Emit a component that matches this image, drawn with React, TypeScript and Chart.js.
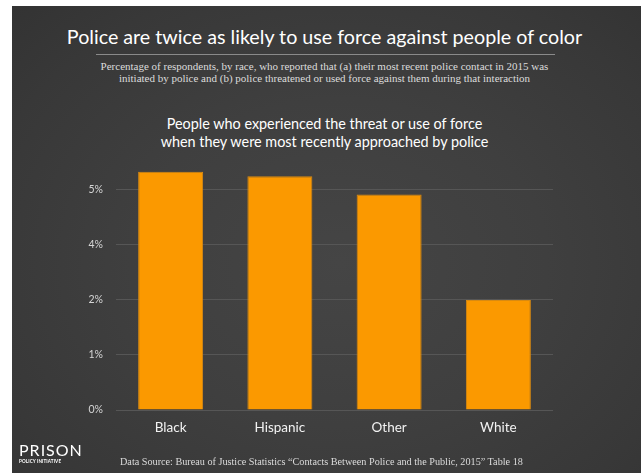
import React, { useEffect, useRef } from "react";
import { Chart, registerables } from "chart.js";

Chart.register(...registerables);

const categories = ["Black", "Hispanic", "Other", "White"];
const values = [5.2, 5.1, 4.7, 2.4];
const tickValues = [0, 1.2, 2.4, 3.6, 4.8];
const yMax = 5.41;

const TITLE = "Police are twice as likely to use force against people of color";
const SUBTITLE_1 =
  "Percentage of respondents, by race, who reported that (a) their most recent police contact in 2015 was";
const SUBTITLE_2 =
  "initiated by police and (b) police threatened or used force against them during that interaction";
const CHART_TITLE_1 = "People who experienced the threat or use of force";
const CHART_TITLE_2 = "when they were most recently approached by police";
const SOURCE =
  "Data Source: Bureau of Justice Statistics \u201cContacts Between Police and the Public, 2015\u201d Table 18";

const SANS = "Lato, 'Noto Sans', sans-serif";
const SERIF = "'Liberation Serif', 'DejaVu Serif', serif";

export default function App() {
  const canvasRef = useRef<HTMLCanvasElement | null>(null);

  useEffect(() => {
    const canvas = canvasRef.current;
    if (!canvas) return;
    const chart = new Chart(canvas, {
      type: "bar",
      data: {
        labels: categories,
        datasets: [
          {
            data: values,
            backgroundColor: "#fb9900",
            borderColor: "#d98a10",
            borderWidth: 1,
            barPercentage: 0.595,
            categoryPercentage: 1,
          },
        ],
      },
      options: {
        responsive: false,
        animation: false,
        devicePixelRatio: 1,
        layout: { padding: { top: 162, right: 88, bottom: 0, left: 0 } },
        plugins: {
          legend: { display: false },
          tooltip: { enabled: false },
          title: { display: false },
        },
        scales: {
          x: {
            grid: { display: false },
            border: { display: false },
            ticks: {
              color: "#f2f2f2",
              padding: 2,
              font: { family: SANS, size: 13.5 },
            },
            afterFit: (scale: any) => {
              scale.height = 63;
            },
          },
          y: {
            min: 0,
            max: yMax,
            border: { display: false },
            grid: { color: "#565656", lineWidth: 1, drawTicks: false },
            afterBuildTicks: (scale: any) => {
              scale.ticks = tickValues.map((v) => ({ value: v }));
            },
            ticks: {
              color: "#d6d6d6",
              padding: 13,
              font: { family: SANS, size: 10.5 },
              callback: (v: any) => Math.round(Number(v)) + "%",
            },
            afterFit: (scale: any) => {
              scale.width = 116;
            },
          },
        },
      },
    });
    return () => chart.destroy();
  }, []);

  const centered = (top: number, extra: React.CSSProperties = {}): React.CSSProperties => ({
    position: "absolute",
    left: 12,
    width: 629,
    top,
    textAlign: "center",
    whiteSpace: "nowrap",
    ...extra,
  });

  return (
    <div
      style={{
        position: "fixed",
        left: 0,
        top: 0,
        width: 641,
        height: 473,
        background: "#ffffff",
        overflow: "hidden",
      }}
    >
      <div
        style={{
          position: "absolute",
          left: 12,
          top: 6,
          width: 629,
          height: 467,
          background:
            "radial-gradient(ellipse at 52% 55%, #454545 0%, #3f3f3f 45%, #383838 80%, #333333 100%)",
        }}
      />
      <div
        style={centered(24, {
          fontFamily: SANS,
          fontSize: 19.7,
          color: "#ffffff",
          lineHeight: "26px",
          left: 10,
        })}
      >
        {TITLE}
      </div>
      <div
        style={{
          position: "absolute",
          left: 96,
          top: 54,
          width: 459,
          height: 1,
          background: "#8a8a8a",
        }}
      />
      <div
        style={centered(60, {
          fontFamily: SERIF,
          fontSize: 11,
          color: "#dcdcdc",
          lineHeight: "12px",
          left: 10,
        })}
      >
        <div>{SUBTITLE_1}</div>
        <div>{SUBTITLE_2}</div>
      </div>
      <div
        style={centered(115, {
          fontFamily: SANS,
          fontSize: 14.4,
          color: "#ffffff",
          lineHeight: "18px",
          left: 10,
        })}
      >
        <div>{CHART_TITLE_1}</div>
        <div>{CHART_TITLE_2}</div>
      </div>
      <canvas
        ref={canvasRef}
        width={641}
        height={473}
        style={{ position: "absolute", left: 0, top: 0, width: 641, height: 473 }}
      />
      <div
        style={{
          position: "absolute",
          left: 19,
          top: 442,
          fontFamily: SANS,
          color: "#ffffff",
          whiteSpace: "nowrap",
        }}
      >
        <div style={{ fontSize: 16, lineHeight: "16px", letterSpacing: 1 }}>PRISON</div>
        <div style={{ fontSize: 4.6, lineHeight: "7px", fontWeight: 700, letterSpacing: 0.1 }}>
          POLICY INITIATIVE
        </div>
      </div>
      <div
        style={{
          position: "absolute",
          left: 120,
          top: 456,
          fontFamily: SERIF,
          fontSize: 10.2,
          lineHeight: "12px",
          color: "#dcdcdc",
          whiteSpace: "nowrap",
        }}
      >
        {SOURCE}
      </div>
    </div>
  );
}
